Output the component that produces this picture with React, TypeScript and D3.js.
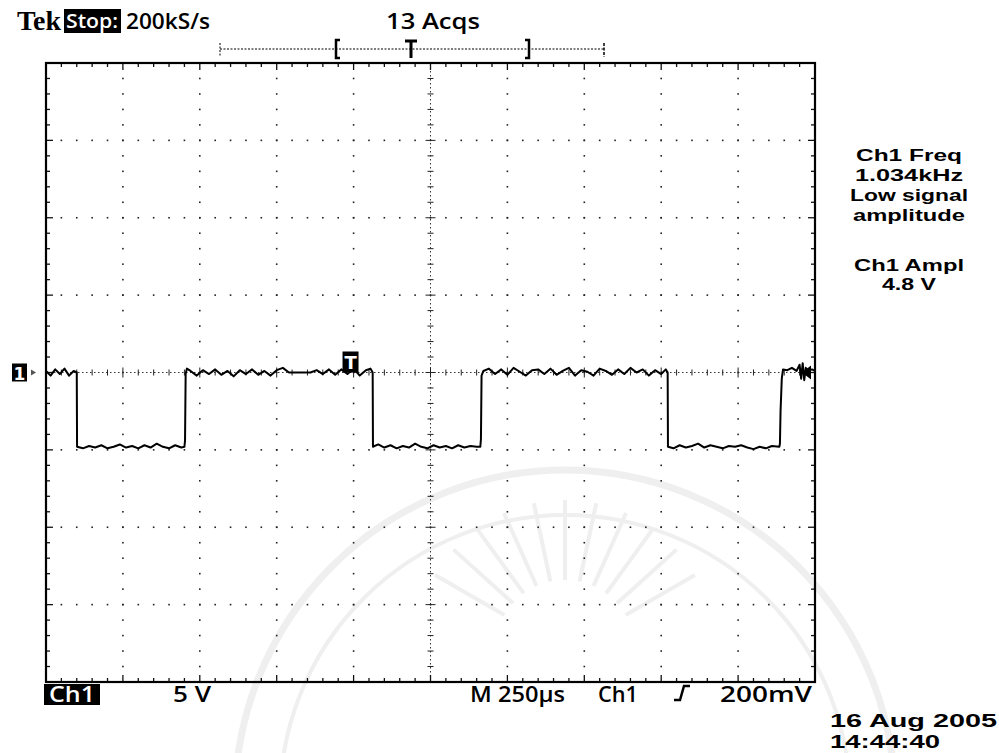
import React from "react";
import * as d3 from "d3";

// scope settings
const timePerDiv = 250; // µs
const voltsPerDiv = 5; // V
const xDivisions = 10;
const yDivisions = 8;
const triggerTime = 990; // µs from left edge of screen

// Ch1 trace, [time µs from left edge, volts]
const traceTimes = [
  0, 15, 30, 45, 60, 75, 90, 100,
  101, 120, 140, 160, 180, 200, 220, 240, 260, 280, 300, 320, 340, 360, 380, 400, 420, 440, 450,
  452, 454, 458, 470, 490, 510, 530, 550, 570, 590, 610, 630, 650, 670, 690, 710, 730, 750, 770, 790,
  820, 860, 880, 900, 920, 940, 960, 980, 1000, 1020, 1040, 1055, 1062,
  1063, 1080, 1100, 1120, 1140, 1160, 1180, 1200, 1220, 1240, 1260, 1280, 1300, 1320, 1340, 1360, 1380, 1400, 1412,
  1414, 1416, 1422, 1440, 1460, 1480, 1500, 1520, 1540, 1560, 1580, 1600, 1620, 1640, 1660, 1680, 1700, 1720,
  1740, 1760, 1780, 1800, 1820, 1840, 1860, 1880, 1900, 1920, 1940, 1960, 1980, 2000, 2015, 2021,
  2022, 2040, 2060, 2080, 2100, 2120, 2140, 2160, 2180, 2200, 2220, 2240, 2260, 2280, 2300, 2320, 2340, 2360, 2384,
  2386, 2388, 2392, 2396, 2410, 2425, 2440, 2450, 2455, 2460, 2465, 2470, 2480, 2490, 2500,
];
const traceVolts = [
  0.1, -0.2, 0.2, -0.1, 0.25, -0.2, 0.1, 0,
  -4.8, -4.9, -4.75, -4.85, -4.7, -4.9, -4.8, -4.65, -4.85, -4.75, -4.9, -4.7, -4.85, -4.6, -4.8, -4.9, -4.7, -4.85, -4.8,
  -4.4, -0.1, 0.25, 0.1, -0.2, 0.15, -0.1, 0.2, -0.15, 0.1, -0.25, 0.15, -0.1, 0.2, -0.15, 0.1, -0.2, 0.15, 0.3, 0,
  0, 0, 0.15, -0.1, 0.2, -0.15, 0.2, -0.1, 0.25, -0.2, 0.15, 0.25, 0,
  -4.8, -4.65, -4.85, -4.7, -4.9, -4.75, -4.85, -4.6, -4.8, -4.9, -4.7, -4.85, -4.75, -4.9, -4.7, -4.85, -4.75, -4.8, -4.8,
  -4.3, -0.2, 0.1, 0.25, -0.1, 0.2, -0.15, 0.3, 0.05, -0.2, 0.15, 0.2, -0.1, 0.25, -0.15, 0.1, 0.3, -0.2,
  0.15, 0.05, -0.2, 0.25, 0.1, -0.15, 0.2, -0.1, 0.3, 0, 0.2, -0.2, 0.15, -0.1, 0.2, 0,
  -4.8, -4.9, -4.7, -4.85, -4.75, -4.6, -4.85, -4.7, -4.8, -4.9, -4.75, -4.8, -4.7, -4.85, -4.95, -4.8, -4.9, -4.75, -4.8,
  -4.6, -2.5, -0.4, 0.2, 0.15, 0.3, 0.1, 0.5, -0.4, 0.6, -0.5, 0.3, 0.1, 0.2, 0.1,
];

const rightReadout = ["Ch1 Freq", "1.034kHz", "Low signal", "amplitude", "Ch1 Ampl", "4.8 V"];
const readoutY = [161, 181, 201, 221, 271, 290];
const readoutW = [106, 108, 118, 112, 110, 54];
const dateLines = ["16 Aug 2005", "14:44:40"];
const dateW = [167, 110];

const X0 = 46, X1 = 815, Y0 = 63, Y1 = 682;
const font = '"Open Sans", "DejaVu Sans", sans-serif';
const tightFont = '"Liberation Sans", Arial, sans-serif';

export default function App() {
  const x = d3.scaleLinear().domain([0, timePerDiv * xDivisions]).range([X0, X1]);
  const y = d3
    .scaleLinear()
    .domain([(-voltsPerDiv * yDivisions) / 2, (voltsPerDiv * yDivisions) / 2])
    .range([Y1, Y0]);

  const majT = d3.range(0, timePerDiv * xDivisions + 1, timePerDiv);
  const minT = d3.range(0, timePerDiv * xDivisions + 1, timePerDiv / 5);
  const majV = d3.range(-20, 21, voltsPerDiv);
  const minV = d3.range(-20, 21, voltsPerDiv / 5);
  const cT = (timePerDiv * xDivisions) / 2;

  const pts: [number, number][] = traceTimes.map((t, i) => [t, traceVolts[i]]);
  const line = d3
    .line<[number, number]>()
    .x((d) => x(d[0]))
    .y((d) => y(d[1]));

  const marks: React.ReactNode[] = [];
  // dotted graticule on the interior major lines
  majT.slice(1, -1).forEach((t) => {
    if (t === cT) return;
    minV.forEach((v) =>
      marks.push(<rect key={`vd${t}_${v}`} x={x(t) - 0.8} y={y(v) - 0.8} width={1.6} height={1.6} fill="#222" />)
    );
  });
  majV.slice(1, -1).forEach((v) => {
    if (v === 0) return;
    minT.forEach((t) =>
      marks.push(<rect key={`hd${t}_${v}`} x={x(t) - 0.8} y={y(v) - 0.8} width={1.6} height={1.6} fill="#222" />)
    );
  });
  // centre cross ticks
  minT.forEach((t) => {
    const l = majT.includes(t) ? 5 : 3;
    marks.push(<line key={`ct${t}`} x1={x(t)} x2={x(t)} y1={y(0) - l} y2={y(0) + l} stroke="#222" strokeWidth={1} />);
  });
  minV.forEach((v) => {
    const l = majV.includes(v) ? 5 : 3;
    marks.push(<line key={`cv${v}`} x1={x(cT) - l} x2={x(cT) + l} y1={y(v)} y2={y(v)} stroke="#222" strokeWidth={1} />);
  });
  // border ticks
  minT.forEach((t) => {
    const l = majT.includes(t) ? 7 : 4;
    marks.push(<line key={`bt${t}`} x1={x(t)} x2={x(t)} y1={Y0} y2={Y0 + l} stroke="#111" strokeWidth={1.3} />);
    marks.push(<line key={`bb${t}`} x1={x(t)} x2={x(t)} y1={Y1} y2={Y1 - l} stroke="#111" strokeWidth={1.3} />);
  });
  minV.forEach((v) => {
    const l = majV.includes(v) ? 7 : 4;
    marks.push(<line key={`bl${v}`} x1={X0} x2={X0 + l} y1={y(v)} y2={y(v)} stroke="#111" strokeWidth={1.3} />);
    marks.push(<line key={`br${v}`} x1={X1} x2={X1 - l} y1={y(v)} y2={y(v)} stroke="#111" strokeWidth={1.3} />);
  });

  const tx = x(triggerTime);

  return (
    <svg width={999} height={753} style={{ position: "absolute", left: 0, top: 0, background: "#fff" }} fontFamily={font}>
      <rect width={999} height={753} fill="#fff" />
      {/* faint watermark seal */}
      <g fill="none" stroke="#efefef" strokeWidth={7}>
        <circle cx={565} cy={800} r={330} />
        <circle cx={565} cy={800} r={285} strokeWidth={4} />
        {d3.range(-60, 61, 12).map((a) => {
          const r = (a * Math.PI) / 180;
          return (
            <line key={a} x1={565 + Math.sin(r) * 70} y1={650 - Math.cos(r) * 70} x2={565 + Math.sin(r) * 150} y2={650 - Math.cos(r) * 150} strokeWidth={4} />
          );
        })}
      </g>

      {/* centre dotted lines */}
      <line x1={X0} x2={X1} y1={y(0)} y2={y(0)} stroke="#333" strokeWidth={1} strokeDasharray="1.5,2.5" />
      <line x1={x(cT)} x2={x(cT)} y1={Y0} y2={Y1} stroke="#333" strokeWidth={1} strokeDasharray="1.5,2.5" />
      {marks}
      <rect x={X0} y={Y0} width={X1 - X0} height={Y1 - Y0} fill="none" stroke="#000" strokeWidth={2.2} />

      {/* trace */}
      <path d={line(pts) || ""} fill="none" stroke="#000" strokeWidth={2} strokeLinejoin="round" />

      {/* trigger point marker */}
      <rect x={tx - 8} y={y(0) - 21} width={16} height={21} fill="#000" />
      <text x={tx} y={y(0) - 4} fill="#fff" fontSize={18} fontWeight="bold" textAnchor="middle" fontFamily='"DejaVu Sans", sans-serif'>T</text>
      {/* trigger level marker */}
      <path d={`M${X1 - 4},${y(0) - 7} L${X1 - 13},${y(0)} L${X1 - 4},${y(0) + 7} Z`} fill="#000" />
      {/* ground marker */}
      <rect x={12} y={y(0) - 9} width={15} height={18} fill="#000" />
      <text x={19.5} y={y(0) + 7} fill="#fff" fontSize={17} fontWeight="bold" textAnchor="middle" fontFamily='"DejaVu Sans", sans-serif'>1</text>
      <path d={`M31,${y(0) - 3} L36,${y(0)} L31,${y(0) + 3} Z`} fill="#555" />

      {/* record bar */}
      <g stroke="#000">
        <line x1={220} x2={604} y1={49} y2={49} strokeWidth={1} strokeDasharray="2,1.5" />
        <line x1={220} x2={220} y1={43} y2={57} strokeWidth={1} strokeDasharray="2,1.5" />
        <line x1={604} x2={604} y1={43} y2={57} strokeWidth={1.5} strokeDasharray="3,1.5" />
        <path d="M340,40 L336,40 L336,58 L340,58" fill="none" strokeWidth={2.5} />
        <path d="M525,40 L529,40 L529,58 L525,58" fill="none" strokeWidth={2.5} />
        <path d="M405,41 L417,41 M411,41 L411,58" fill="none" strokeWidth={3} />
      </g>

      {/* top status line */}
      <text x={17} y={30} fontFamily='"Liberation Serif", serif' fontWeight="bold" fontSize={28} textLength={44} lengthAdjust="spacingAndGlyphs">Tek</text>
      <rect x={64} y={9} width={57} height={24} fill="#000" />
      <text x={66} y={28} fill="#fff" fontSize={20} fontWeight="600" textLength={52} lengthAdjust="spacingAndGlyphs">Stop:</text>
      <text x={126} y={29} fontSize={21} fontWeight="600" textLength={84} lengthAdjust="spacingAndGlyphs">200kS/s</text>
      <text x={386} y={29} fontSize={21} fontWeight="600" textLength={94} lengthAdjust="spacingAndGlyphs">13 Acqs</text>

      {/* right readouts */}
      {rightReadout.map((s, i) => (
        <text key={i} x={909} y={readoutY[i]} fontFamily={tightFont} fontSize={17.2} fontWeight="bold" textAnchor="middle" textLength={readoutW[i]} lengthAdjust="spacingAndGlyphs">
          {s}
        </text>
      ))}

      {/* bottom status line */}
      <rect x={44} y={684} width={56} height={21} fill="#000" />
      <text x={49} y={702} fill="#fff" fontSize={21} fontWeight="600" textLength={46} lengthAdjust="spacingAndGlyphs">Ch1</text>
      <text x={173} y={702} fontSize={21} fontWeight="600" textLength={38} lengthAdjust="spacingAndGlyphs">5 V</text>
      <text x={470} y={702} fontSize={21} fontWeight="600" textLength={95} lengthAdjust="spacingAndGlyphs">M 250µs</text>
      <text x={598} y={702} fontSize={21} fontWeight="600" textLength={40} lengthAdjust="spacingAndGlyphs">Ch1</text>
      <path d="M674,700 L680,700 L684,686 L690,686" fill="none" stroke="#000" strokeWidth={2.5} />
      <text x={720} y={702} fontSize={21} fontWeight="600" textLength={92} lengthAdjust="spacingAndGlyphs">200mV</text>
      {dateLines.map((s, i) => (
        <text key={i} x={830} y={727 + i * 21} fontFamily={tightFont} fontSize={18} fontWeight="bold" textLength={dateW[i]} lengthAdjust="spacingAndGlyphs">
          {s}
        </text>
      ))}
    </svg>
  );
}
